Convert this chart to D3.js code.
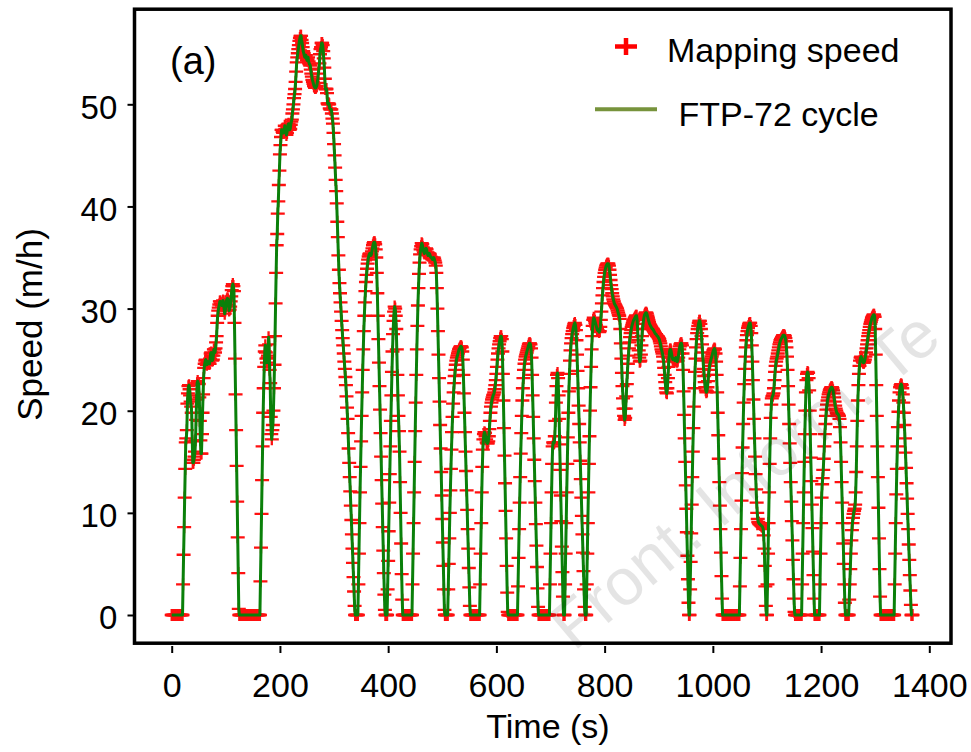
<!DOCTYPE html>
<html>
<head>
<meta charset="utf-8">
<script src="https://d3js.org/d3.v7.min.js"></script>
<style>
  body { margin: 0; background: #fff; }
  svg text { font-family: "Liberation Sans", Arial, sans-serif; fill: #000; }
</style>
</head>
<body>
<svg id="chart" width="971" height="752"></svg>
<script>
// FTP-72 speed trace (mph), one value per second.
// Each hill starts at "start" seconds; between hills the car stands still (0 mph).
var hills = [
  {start: 21, v: [3.0, 5.9, 8.6, 11.5, 14.3, 16.9, 17.3, 18.1, 20.7, 21.7,
    22.4, 22.5, 22.1, 21.5, 20.9, 20.4, 19.8, 17.0, 14.9, 14.9,
    15.2, 15.5, 16.0, 17.1, 19.1, 21.1, 22.7, 22.9, 22.7, 22.6,
    21.3, 19.0, 17.1, 15.8, 15.8, 17.7, 19.8, 21.6, 23.2, 24.2,
    24.6, 24.9, 25.0, 24.6, 24.5, 24.7, 24.8, 24.7, 24.6, 24.6,
    25.1, 25.6, 25.7, 25.4, 24.9, 25.0, 25.4, 26.0, 26.0, 25.7,
    26.1, 26.7, 27.3, 28.6, 29.3, 29.8, 30.1, 30.4, 30.7, 30.7,
    30.5, 30.4, 30.3, 30.4, 30.8, 30.4, 29.9, 29.5, 29.8, 30.3,
    30.7, 30.9, 31.0, 30.9, 30.4, 29.8, 29.9, 30.2, 30.7, 31.2,
    31.8, 32.2, 32.4, 32.2, 31.7, 28.6, 25.1, 21.6, 18.1, 14.6,
    11.1, 7.6, 4.1, 0.6]},
  {start: 164, v: [3.3, 6.6, 9.9, 13.2, 16.5, 19.8, 22.2, 24.3, 25.8, 26.4,
    25.7, 25.1, 24.7, 25.2, 25.4, 27.2, 26.5, 24.0, 22.7, 19.4,
    17.7, 17.2, 18.1, 18.6, 20.0, 22.2, 24.5, 27.3, 30.5, 33.5,
    36.2, 37.3, 39.3, 40.5, 42.1, 43.5, 45.1, 46.0, 46.8, 47.5,
    47.5, 47.3, 47.2, 47.2, 47.4, 47.9, 47.6, 47.3, 47.0, 47.2,
    47.6, 48.0, 48.1, 47.8, 47.5, 47.6, 48.0, 48.3, 48.5, 49.1,
    49.5, 50.0, 50.6, 51.0, 51.5, 52.2, 53.2, 54.1, 54.6, 55.0,
    55.4, 55.8, 56.2, 56.5, 56.7, 56.7, 56.3, 56.0, 55.6, 55.2,
    55.0, 54.8, 54.6, 54.6, 54.8, 54.5, 54.3, 54.4, 54.6, 54.2,
    54.0, 53.9, 53.8, 53.4, 53.0, 52.7, 52.4, 52.2, 52.0, 51.8, 51.7, 51.6,
    51.6, 51.7, 51.8, 52.1, 52.5, 53.0, 53.5, 54.0, 54.9, 55.4,
    55.6, 56.0, 56.0, 55.8, 55.2, 54.5, 53.6, 52.5, 51.5, 51.5,
    51.5, 51.1, 50.1, 50.0, 50.1, 50.0, 49.6, 49.5, 49.5, 49.5,
    49.1, 48.6, 48.1, 47.2, 46.1, 45.0, 43.8, 42.6, 41.5, 40.3,
    38.5, 37.0, 35.2, 33.8, 32.5, 31.5, 30.6, 29.7, 28.8, 27.9,
    27.1, 26.4, 25.6, 24.8, 24.1, 23.3, 22.5, 21.4, 20.3, 19.2,
    17.8, 16.3, 14.9, 13.5, 12.1, 10.7, 9.3, 7.9, 6.5, 5.1,
    3.7, 2.3, 0.9]},
  {start: 345, v: [3.0, 6.0, 9.0, 12.0, 14.5, 17.0, 19.5, 21.8, 24.0, 26.0,
    27.8, 29.3, 30.6, 31.7, 32.6, 33.3, 33.9, 34.4, 34.8, 35.1,
    35.3, 35.4, 35.3, 35.2, 35.3, 35.6, 35.9, 36.2, 36.4, 36.5,
    36.5, 36.3, 35.8, 35.0, 33.5, 31.5, 29.3, 27.0, 24.7, 22.4,
    20.1, 17.8, 15.5, 13.2, 10.9, 8.6, 6.3, 4.1, 2.0, 0.5]},
  {start: 399, v: [2.5, 5.3, 8.2, 11.0, 13.8, 16.5, 19.0, 21.5, 23.8, 25.8,
    27.5, 28.8, 29.7, 30.2, 30.0, 29.3, 28.0, 26.0, 23.5, 21.5,
    19.5, 18.0, 16.0, 13.0, 10.0, 7.0, 4.0, 1.5]},
  {start: 445, v: [3.0, 6.0, 9.0, 12.0, 15.0, 18.0, 20.8, 23.5, 26.0, 28.3,
    30.3, 32.0, 33.4, 34.5, 35.3, 35.8, 36.1, 36.4, 36.3, 36.0,
    35.7, 35.5, 35.4, 35.6, 35.8, 35.9, 35.8, 35.5, 35.3, 35.2,
    35.3, 35.4, 35.3, 35.1, 35.0, 35.0, 34.9, 34.8, 34.9, 35.0,
    34.9, 34.7, 34.5, 34.2, 33.5, 32.0, 30.0, 27.8, 25.5, 23.2,
    20.9, 18.6, 16.3, 14.0, 11.7, 9.4, 7.1, 4.8, 2.5, 0.5]},
  {start: 511, v: [2.5, 5.0, 7.5, 10.0, 12.2, 14.3, 16.2, 17.9, 19.4, 20.7,
    21.8, 22.7, 23.4, 24.0, 24.5, 24.9, 25.2, 25.4, 25.6, 25.8,
    26.0, 26.1, 26.2, 26.3, 26.3, 26.2, 25.8, 25.0, 23.5, 21.7,
    19.8, 17.9, 16.0, 14.1, 12.2, 10.3, 8.4, 6.5, 4.6, 2.7, 0.9]},
  {start: 570, v: [3.0, 6.0, 9.0, 12.0, 14.5, 16.2, 17.2, 17.7, 17.9, 17.8,
    17.5, 17.2, 16.9, 16.8, 16.8, 17.0, 17.5, 18.2, 19.0, 19.8,
    20.4, 20.8, 21.1, 21.3, 21.5, 21.6, 21.8, 22.1, 22.5, 23.0,
    23.6, 24.3, 25.0, 25.6, 26.1, 26.5, 26.8, 27.1, 27.3, 27.3,
    27.0, 25.8, 23.6, 21.0, 18.3, 15.6, 12.9, 10.2, 7.5, 4.8, 2.2, 0.3]},
  {start: 640, v: [2.8, 5.6, 8.4, 11.0, 13.5, 15.8, 17.8, 19.5, 21.0, 22.2,
    23.2, 24.0, 24.6, 25.0, 25.3, 25.5, 25.7, 25.9, 26.1, 26.3,
    26.5, 26.6, 26.6, 26.5, 26.1, 25.2, 23.5, 21.5, 19.4, 17.3,
    15.2, 13.1, 11.0, 8.9, 6.8, 4.7, 2.6, 0.8]},
  {start: 699, v: [3.0, 6.0, 9.0, 12.0, 14.8, 16.5, 16.9, 16.8, 16.9, 17.5,
    19.0, 20.8, 22.4, 23.5, 23.7, 23.2, 21.5, 19.2, 16.7, 14.2,
    11.7, 9.2, 6.7, 4.2, 1.8]},
  {start: 727, v: [3.0, 6.0, 9.0, 12.0, 14.8, 17.4, 19.8, 21.9, 23.6, 24.9,
    25.9, 26.6, 27.1, 27.5, 27.8, 28.1, 28.3, 28.5, 28.6, 28.4,
    27.9, 26.9, 25.5, 23.9, 22.2, 20.5, 18.7, 16.9, 15.1, 13.3,
    11.5, 9.7, 7.9, 6.1, 4.3, 2.5, 0.8]},
  {start: 767, v: [3.0, 6.0, 9.0, 12.0, 14.8, 17.5, 20.0, 22.3, 24.3, 26.0,
    27.3, 28.3, 28.9, 29.1, 29.0, 28.8, 28.6, 28.4, 28.2, 28.0,
    27.9, 27.8, 27.8, 27.7, 27.8, 28.2, 28.9, 29.7, 30.5, 31.3,
    32.0, 32.6, 33.1, 33.5, 33.8, 34.0, 34.2, 34.3, 34.4, 34.4,
    34.4, 34.2, 33.8, 33.3, 32.8, 32.3, 31.9, 31.5, 31.2, 30.9,
    30.7, 30.5, 30.4, 30.3, 30.2, 30.1, 30.0, 29.8, 29.6, 29.4,
    29.3, 29.0, 28.0, 26.6, 25.1, 23.7, 22.4, 21.2, 20.2, 19.5,
    19.1, 19.3, 20.2, 21.4, 22.6, 23.7, 24.6, 25.4, 26.1, 26.7,
    27.2, 27.6, 27.9, 28.2, 28.4, 28.6, 28.8, 28.9, 29.0, 29.1,
    29.2, 29.3, 29.3, 28.9, 28.0, 26.9, 25.9, 25.2, 24.8, 24.9,
    25.5, 26.4, 27.3, 28.0, 28.5, 28.9, 29.2, 29.4, 29.5, 29.6,
    29.6, 29.5, 29.3, 29.1, 28.9, 28.7, 28.5, 28.4, 28.3, 28.2,
    28.1, 28.0, 28.0, 27.9, 27.8, 27.7, 27.6, 27.5, 27.5, 27.4,
    27.3, 27.3, 27.2, 27.1, 27.0, 26.8, 26.6, 26.3, 26.0, 25.8,
    25.6, 25.3, 24.8, 24.2, 23.5, 22.8, 22.2, 21.8, 21.7, 22.2,
    23.2, 24.3, 25.2, 25.8, 26.0, 26.0, 25.8, 25.5, 25.2, 25.0,
    25.0, 25.1, 25.0, 24.9, 25.0, 25.2, 25.0, 24.8, 24.9, 25.2,
    25.6, 26.0, 26.3, 26.5, 26.6, 26.6, 26.4, 25.6, 24.0, 21.9,
    19.6, 17.3, 15.0, 12.7, 10.4, 8.1, 5.8, 3.5, 1.2]},
  {start: 958, v: [2.5, 5.2, 8.0, 10.8, 13.5, 16.0, 18.3, 20.4, 22.2, 23.8,
    25.1, 26.2, 27.0, 27.6, 28.0, 28.3, 28.6, 28.8, 28.8, 28.5,
    28.0, 27.3, 26.5, 25.7, 24.9, 24.1, 23.4, 22.8, 22.3, 22.0,
    21.8, 21.9, 22.3, 22.9, 23.5, 24.0, 24.4, 24.7, 24.9, 25.1,
    25.3, 25.5, 25.7, 25.9, 26.0, 26.1, 26.0, 25.6, 24.8, 23.5,
    21.8, 19.8, 17.6, 15.3, 13.0, 10.7, 8.4, 6.1, 3.8, 1.6]},
  {start: 1050, v: [2.8, 5.6, 8.4, 11.2, 13.9, 16.4, 18.7, 20.8, 22.6, 24.1,
    25.3, 26.2, 26.9, 27.4, 27.8, 28.1, 28.3, 28.5, 28.6, 28.6,
    28.3, 27.6, 26.4, 24.8, 23.0, 21.1, 19.2, 17.3, 15.5, 13.8,
    12.3, 11.0, 10.0, 9.4, 9.1, 9.0, 8.9, 8.9, 8.8, 8.8,
    8.7, 8.7, 8.6, 8.4, 7.8, 6.5, 4.8, 2.8, 0.9]},
  {start: 1101, v: [3.0, 6.0, 9.0, 12.0, 14.8, 17.3, 19.3, 20.6, 21.2, 21.4,
    21.5, 21.7, 22.2, 23.0, 23.8, 24.4, 24.8, 25.1, 25.3, 25.6,
    25.9, 26.2, 26.5, 26.7, 26.9, 27.0, 27.1, 27.2, 27.3, 27.4,
    27.4, 27.4, 27.3, 27.1, 26.8, 26.2, 25.3, 24.0, 22.4, 20.6,
    18.7, 16.8, 14.9, 13.0, 11.1, 9.2, 7.3, 5.4, 3.5, 1.6, 0.3]},
  {start: 1165, v: [3.0, 6.0, 9.0, 12.0, 15.0, 17.7, 20.0, 21.8, 23.0, 23.6,
    23.8, 23.7, 23.2, 22.0, 20.0, 17.7, 15.4, 13.1, 10.8, 8.5,
    6.2, 3.9, 1.6]},
  {start: 1198, v: [3.0, 6.0, 9.0, 11.5, 12.8, 13.4, 14.2, 15.3, 16.5, 17.7,
    18.7, 19.5, 20.1, 20.6, 21.0, 21.3, 21.6, 21.8, 22.0, 22.1,
    22.2, 22.3, 22.3, 22.2, 22.0, 21.7, 21.3, 20.9, 20.5, 20.2,
    20.0, 19.8, 19.7, 19.7, 19.6, 19.5, 19.2, 18.4, 16.9, 15.0,
    13.0, 11.0, 9.0, 7.0, 5.0, 3.0, 1.2]},
  {start: 1252, v: [1.5, 3.0, 4.5, 6.0, 7.3, 8.3, 9.0, 9.5, 9.9, 10.2,
    10.4, 10.8, 12.0, 14.0, 16.5, 19.0, 21.0, 22.5, 23.6, 24.4,
    24.9, 25.2, 25.3, 25.2, 25.0, 24.8, 24.7, 24.7, 24.8, 25.0,
    25.3, 25.7, 26.1, 26.5, 26.9, 27.3, 27.6, 27.9, 28.2, 28.5,
    28.7, 28.9, 29.1, 29.2, 29.3, 29.4, 29.4, 29.2, 28.0, 25.5,
    22.5, 19.5, 16.5, 13.5, 10.5, 7.5, 4.5, 1.8]},
  {start: 1336, v: [3.0, 6.0, 9.0, 11.8, 14.3, 16.5, 18.4, 19.9, 21.0, 21.8,
    22.3, 22.5, 22.6, 22.5, 22.2, 21.6, 20.8, 19.8, 18.6, 17.3,
    15.9, 14.4, 12.9, 11.4, 9.9, 8.4, 6.9, 5.4, 3.9, 2.4, 1.0]}
];
var endTime = 1369;

var xTicks = [0, 200, 400, 600, 800, 1000, 1200, 1400];
var yTicks = [0, 10, 20, 30, 40, 50];
var legendNames = ["Mapping speed", "FTP-72 cycle"];

// one point per second
var speed = [];
for (var t = 0; t <= endTime; t++) speed.push({t: t, v: 0});
hills.forEach(function(h) {
  h.v.forEach(function(v, i) { speed[h.start + i].v = v; });
});

var svg = d3.select("#chart");
svg.append("rect").attr("width", 971).attr("height", 752).attr("fill", "#fff");

var x = d3.scaleLinear().domain([0, 1400]).range([171.7, 929.3]);
var y = d3.scaleLinear().domain([0, 50]).range([615, 104.3]);

// red + markers
svg.append("g").selectAll("path")
  .data(speed).enter().append("path")
  .attr("d", function(d) {
    var px = x(d.t), py = y(d.v);
    return "M" + (px - 7) + "," + py + "H" + (px + 7) + "M" + px + "," + (py - 6) + "V" + (py + 6);
  })
  .attr("stroke", "#ff1010").attr("stroke-width", 2.3).attr("fill", "none");

var valueline = d3.line()
  .x(function(d) { return x(d.t); })
  .y(function(d) { return y(d.v); });

svg.append("path").datum(speed)
  .attr("d", valueline)
  .attr("fill", "none")
  .attr("stroke", "#0a800a")
  .attr("stroke-width", 3)
  .attr("stroke-linejoin", "round");

// frame
svg.append("rect")
  .attr("x", 134.5).attr("y", 9.2).attr("width", 816.5).attr("height", 634)
  .attr("fill", "none").attr("stroke", "#000").attr("stroke-width", 3.5);

// axes
var yAxis = svg.append("g").attr("transform", "translate(133,0)")
  .call(d3.axisLeft(y).tickValues(yTicks).tickSize(5.5).tickPadding(10.2));
yAxis.select(".domain").remove();
yAxis.selectAll("line").attr("stroke", "#000").attr("stroke-width", 2);
yAxis.selectAll("text").attr("font-size", 33).attr("dy", "0.415em")
  .style("font-family", "'Liberation Sans', Arial, sans-serif");

var xAxis = svg.append("g").attr("transform", "translate(0,646)")
  .call(d3.axisBottom(x).tickValues(xTicks).tickFormat(d3.format("d")).tickSize(7).tickPadding(20));
xAxis.select(".domain").remove();
xAxis.selectAll("line").attr("stroke", "#000").attr("stroke-width", 2);
xAxis.selectAll("text").attr("font-size", 34)
  .style("font-family", "'Liberation Sans', Arial, sans-serif");

svg.append("text").attr("x", 548).attr("y", 738).attr("text-anchor", "middle")
  .attr("font-size", 34).text("Time (s)");
svg.append("text").attr("transform", "translate(41.5,324.5) rotate(-90)")
  .attr("text-anchor", "middle").attr("font-size", 35).text("Speed (m/h)");
svg.append("text").attr("x", 170).attr("y", 74).attr("font-size", 38).text("(a)");

// legend
svg.append("path").attr("d", "M615,46.5H637M626,38V55")
  .attr("stroke", "#ff0000").attr("stroke-width", 4.5);
svg.append("text").attr("x", 667).attr("y", 61.5).attr("font-size", 34).text(legendNames[0]);
svg.append("line").attr("x1", 595).attr("x2", 657).attr("y1", 109.3).attr("y2", 109.3)
  .attr("stroke", "#77933c").attr("stroke-width", 4);
svg.append("text").attr("x", 678.5).attr("y", 126).attr("font-size", 34).text(legendNames[1]);

// journal watermark, kept inside the page
svg.append("text").attr("transform", "translate(574,652) rotate(-40)")
  .attr("font-size", 66).style("fill", "#000").attr("opacity", 0.1)
  .text("Front. Inform. Te");
</script>
</body>
</html>
